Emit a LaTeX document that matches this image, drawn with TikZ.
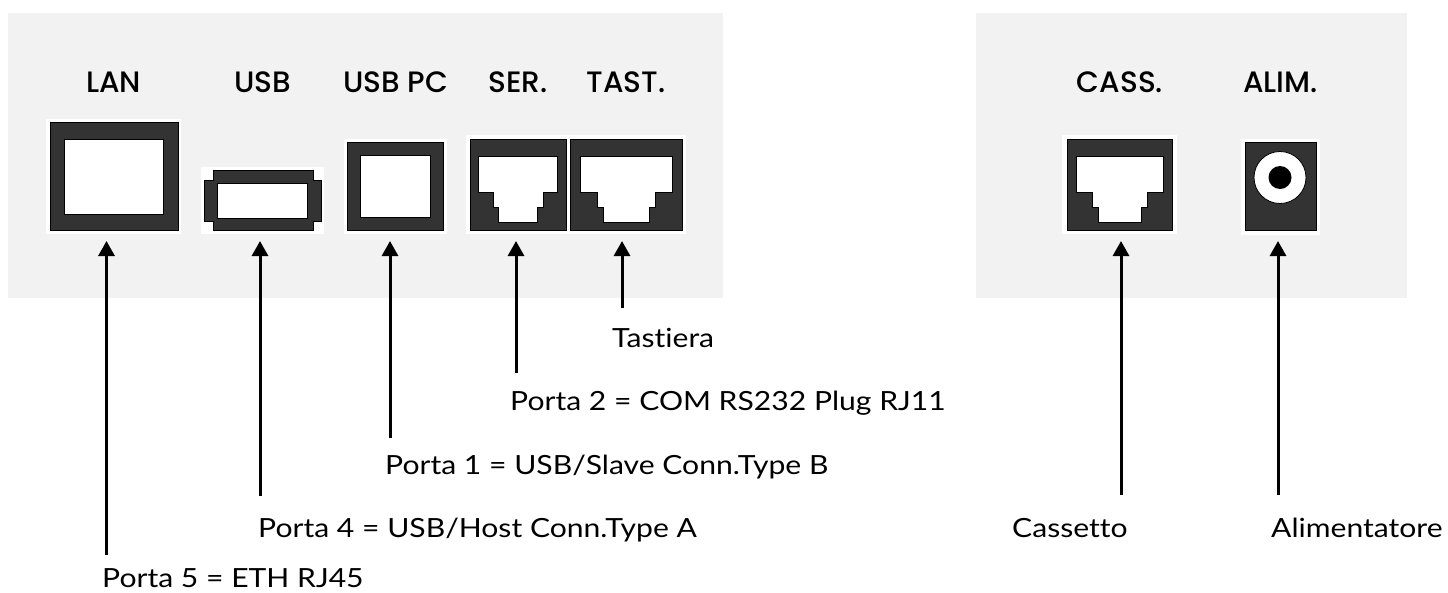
\documentclass[tikz,border=0pt]{standalone}
\usepackage{fontspec}
\setmainfont{Lato}[Ligatures={NoCommon},FakeStretch=1.14]
\newfontfamily\headfont{Poppins Medium}[Ligatures={NoCommon}]
\usetikzlibrary{arrows.meta}
\definecolor{panel}{HTML}{F2F2F2}
\definecolor{portdark}{HTML}{333333}
\tikzset{
 x=1pt,y=-1pt,
 panelbox/.style={fill=panel,draw=none},
 halo/.style={fill=white,draw=none},
 dark/.style={fill=portdark,draw=black,line width=0.8pt},
 hole/.style={fill=white,draw=black,line width=0.8pt},
 head/.style={font=\headfont\fontsize{29.5}{31}\selectfont,text=black,anchor=base,inner sep=0pt},
 lab/.style={font=\fontsize{26.4}{29}\selectfont,text=black,anchor=base west,inner sep=0pt},
 callout/.style={line width=3pt,-{Triangle[length=15pt,width=16pt]}},
}
\begin{document}
\begin{tikzpicture}
\useasboundingbox (0,0) rectangle (1448,592);
\fill[panelbox] (8,13) rectangle (723,298);
\fill[panelbox] (976,13) rectangle (1407,298);
% halos
\fill[halo] (46,119) rectangle (181,234);
\fill[halo] (201,167) rectangle (324,234);
\fill[halo] (344,139) rectangle (447,234);
\fill[halo] (466,135) rectangle (686,234);
\fill[halo] (1062,135) rectangle (1177,234);
\fill[halo] (1241,139) rectangle (1320,235);
% LAN
\draw[dark] (50,122) rectangle (178,230);
\draw[hole] (64,139) rectangle (163,214);
% USB
\draw[dark] (213,170)--(313,170)--(313,180)--(321,180)--(321,221)--(313,221)--(313,230)--(213,230)--(213,221)--(204,221)--(204,180)--(213,180)--cycle;
\draw[hole] (217.5,183) rectangle (307,218);
% USB PC
\draw[dark] (347.5,142) rectangle (443,230);
\draw[hole] (360.5,155) rectangle (430,217);
% SER
\draw[dark] (470,139) rectangle (566,230);
\draw[hole] (478.5,156.5)--(557,156.5)--(557,192)--(543,192)--(543,207.5)--(537.5,207.5)--(537.5,222)--(498,222)--(498,207.5)--(493,207.5)--(493,192)--(478.5,192)--cycle;
% TAST
\draw[dark] (570,139) rectangle (682,230);
\draw[hole] (580,156.5)--(672,156.5)--(672,192)--(655,192)--(655,207.5)--(649,207.5)--(649,222)--(603,222)--(603,207.5)--(597,207.5)--(597,192)--(580,192)--cycle;
% CASS
\draw[dark] (1067,139) rectangle (1172.5,230);
\draw[hole] (1076,156.5)--(1163,156.5)--(1163,192)--(1147,192)--(1147,207.5)--(1141,207.5)--(1141,222)--(1098,222)--(1098,207.5)--(1092,207.5)--(1092,192)--(1076,192)--cycle;
% ALIM
\draw[dark] (1245,142) rectangle (1316,230);
\draw[hole] (1280,177.5) circle (26);
\fill[black] (1280,177.5) circle (11.5);
% headers
\node[head] (hLAN) at (113.5,92) {LAN};
\node[head] (hUSB) at (262.5,92) {USB};
\node[head] (hPC) at (395.5,92) {USB PC};
\node[head] (hSER) at (518,92) {SER.};
\node[head] (hTAST) at (626,92) {TAST.};
\node[head] (hCASS) at (1120,92) {CASS.};
\node[head] (hALIM) at (1280.5,92) {ALIM.};
% labels
\node[lab] (lLAN) at (102,587) {Porta 5 = ETH RJ45};
\node[lab] (lUSB) at (258,537) {Porta 4 = USB/Host Conn.Type A};
\node[lab] (lPC) at (385,474) {Porta 1 = USB/Slave Conn.Type B};
\node[lab] (lSER) at (510,410) {Porta 2 = COM RS232 Plug RJ11};
\node[lab] (lTAST) at (612,347) {Tastiera};
\node[lab] (lCASS) at (1012,537) {Cassetto};
\node[lab] (lALIM) at (1271,537) {Alimentatore};
% arrow ends
\foreach \n/\x/\yb in {LAN/106.5/555,USB/260/496,PC/390/438,SER/516/373,TAST/622/308,CASS/1121/495,ALIM/1278/495}{
 \coordinate (t\n) at (\x,241);
 \coordinate (b\n) at (\x,\yb);
 \draw[callout] (b\n) -- (t\n);
}
\end{tikzpicture}
\end{document}
